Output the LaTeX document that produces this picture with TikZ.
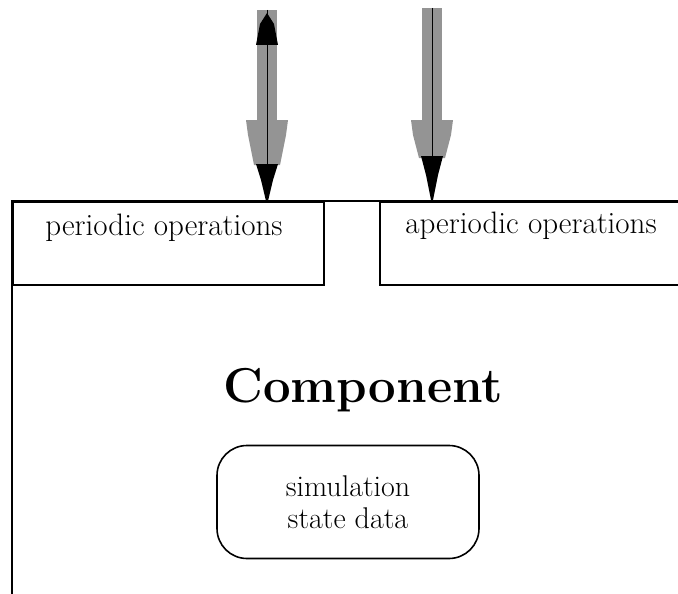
\documentclass[tikz,border=0pt]{standalone}
\tikzset{
  x=1pt, y=-1pt,
  frame/.style={line width=1.6pt, draw=black},
  opbox/.style={draw=black, line width=1.6pt, anchor=north west, inner sep=0pt},
  oplabel/.style={font=\fontsize{31}{36}\selectfont, inner sep=0pt, anchor=base},
  shaft/.style={fill=black!42, draw=none},
  tipfill/.style={fill=black, draw=none},
  axis/.style={draw=black, line width=1pt},
  statebox/.style={draw=black, line width=1.6pt, rounded corners=30pt, minimum width=262pt, minimum height=113pt, align=center, inner sep=0pt, font=\fontsize{30}{32}\selectfont},
}
\begin{document}
\begin{tikzpicture}
\useasboundingbox (0,0) rectangle (678,594);
% outer component frame
\coordinate (fbl) at (12,600);
\coordinate (ftl) at (12,201);
\coordinate (ftr) at (680,201);
\draw[frame] (fbl) -- (ftl) -- (ftr);
% operation boxes
\node[opbox, minimum width=311pt, minimum height=83pt] (per) at (12,201) {};
\node[opbox, minimum width=310pt, minimum height=83pt] (aper) at (379,201) {};
\node[oplabel] (perl) at (164,235) {periodic operations};
\node[oplabel] (aperl) at (531,233) {aperiodic operations};
% title
\node[font=\bfseries\fontsize{49}{54}\selectfont, inner sep=0pt, anchor=base] (comp) at (363,402) {Component};
% state data
\node[statebox] (state) at (348,502) {simulation\\state data};
% left arrow (two-headed)
\coordinate (la) at (267,10);
\coordinate (lb) at (267,201);
\begin{scope}[shift={(267,0)}]
  \fill[shaft] (-10,10) rectangle (10,122);
  \fill[shaft] (-21,120) -- (21,120) -- (19,135) -- (13,165) -- (-13,165) -- (-19,135) -- cycle;
  \fill[tipfill] (-11,164) -- (11,164) -- (6,180) -- (1,201) -- (-1,201) -- (-6,180) -- cycle;
  \fill[tipfill] (0,13) -- (7,24) -- (11,45) -- (-11,45) -- (-7,24) -- cycle;
\end{scope}
\draw[axis] (la) -- (lb);
% right arrow
\coordinate (ra) at (432,8);
\coordinate (rb) at (432,201);
\begin{scope}[shift={(432,0)}]
  \fill[shaft] (-10,8) rectangle (10,122);
  \fill[shaft] (-21,120) -- (21,120) -- (19,135) -- (13,158) -- (-13,158) -- (-19,135) -- cycle;
  \fill[tipfill] (-11,156) -- (11,156) -- (6,175) -- (1,200) -- (-1,200) -- (-6,175) -- cycle;
\end{scope}
\draw[axis] (ra) -- (rb);
\end{tikzpicture}
\end{document}
